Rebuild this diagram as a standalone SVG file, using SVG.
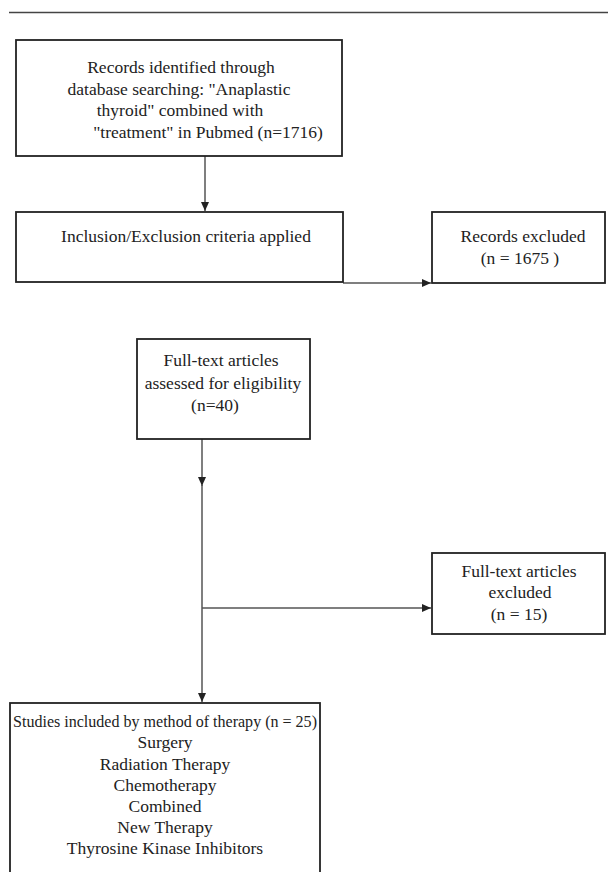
<svg xmlns="http://www.w3.org/2000/svg" width="608" height="872" viewBox="0 0 608 872">
<style>
.box{fill:#fff;stroke:#222;stroke-width:1.8}
.t{font-family:"Liberation Serif","Times New Roman",serif;font-size:17.5px;fill:#222;text-anchor:middle}
.c{stroke:#555;stroke-width:1.5;fill:none}
</style>
<defs>
<marker id="ah" markerWidth="10" markerHeight="10" refX="9" refY="5" orient="auto" markerUnits="userSpaceOnUse">
<path d="M0,1 L9,5 L0,9 Z" fill="#222"/>
</marker>
</defs>
<line x1="9" y1="12.5" x2="608" y2="12.5" stroke="#444" stroke-width="1.5"/>
<g id="connectors">
<line class="c" x1="205" y1="156" x2="205" y2="211" marker-end="url(#ah)"/>
<line class="c" x1="343" y1="283" x2="431" y2="283" marker-end="url(#ah)"/>
<line class="c" x1="202" y1="439" x2="202" y2="486" marker-end="url(#ah)"/>
<line class="c" x1="202" y1="484" x2="202" y2="702" marker-end="url(#ah)"/>
<line class="c" x1="202" y1="608" x2="431" y2="608" marker-end="url(#ah)"/>
</g>
<g id="records-identified">
<rect class="box" x="16" y="40" width="326" height="116"/>
<text class="t" x="181" y="73">Records identified through</text>
<text class="t" x="179" y="95">database searching: "Anaplastic</text>
<text class="t" x="180" y="116">thyroid" combined with</text>
<text class="t" x="208" y="138">"treatment" in Pubmed (n=1716)</text>
</g>
<g id="criteria">
<rect class="box" x="16" y="212" width="327" height="70"/>
<text class="t" x="186" y="242">Inclusion/Exclusion criteria applied</text>
</g>
<g id="records-excluded">
<rect class="box" x="432" y="212" width="173" height="71"/>
<text class="t" x="523" y="242">Records excluded</text>
<text class="t" x="520" y="264">(n = 1675 )</text>
</g>
<g id="fulltext-assessed">
<rect class="box" x="137" y="339" width="173" height="100"/>
<text class="t" x="221" y="366">Full-text articles</text>
<text class="t" x="223" y="389">assessed for eligibility</text>
<text class="t" x="215" y="411">(n=40)</text>
</g>
<g id="fulltext-excluded">
<rect class="box" x="432" y="553" width="173" height="81"/>
<text class="t" x="519" y="577">Full-text articles</text>
<text class="t" x="520" y="598">excluded</text>
<text class="t" x="519" y="620">(n = 15)</text>
</g>
<g id="studies-included">
<rect class="box" x="10" y="703" width="310" height="175"/>
<text class="t" x="165" y="727" textLength="304" lengthAdjust="spacingAndGlyphs">Studies included by method of therapy (n = 25)</text>
<text class="t" x="165" y="748">Surgery</text>
<text class="t" x="165" y="769.5">Radiation Therapy</text>
<text class="t" x="165" y="791">Chemotherapy</text>
<text class="t" x="165" y="812">Combined</text>
<text class="t" x="165" y="833">New Therapy</text>
<text class="t" x="165" y="854">Thyrosine Kinase Inhibitors</text>
</g>
</svg>
